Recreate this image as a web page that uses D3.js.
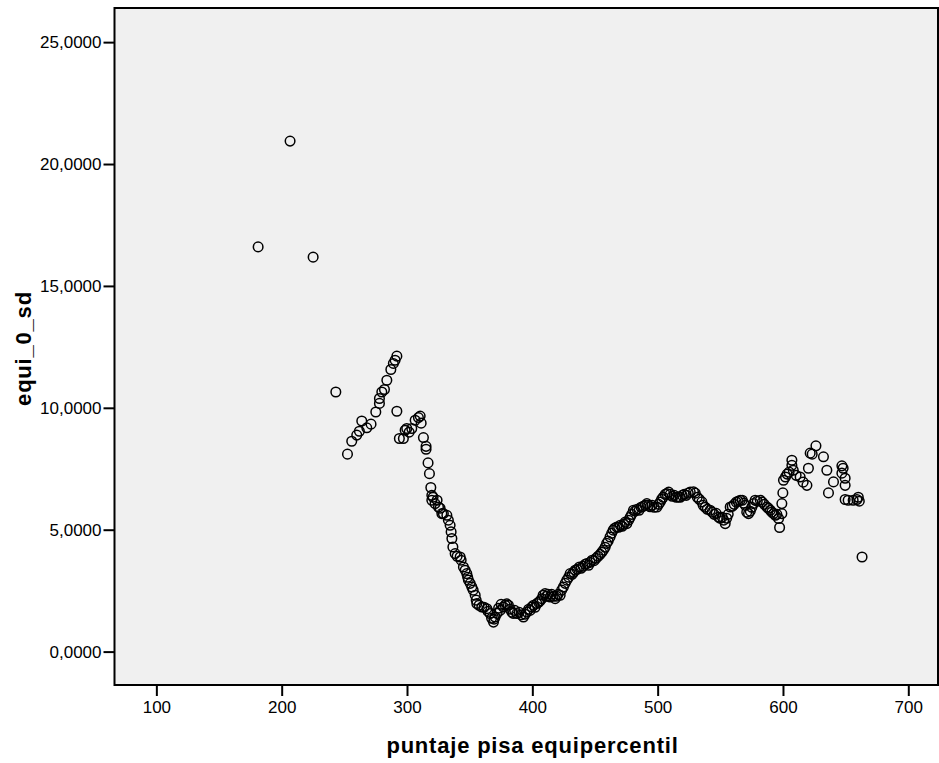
<!DOCTYPE html>
<html>
<head>
<meta charset="utf-8">
<script src="https://cdn.jsdelivr.net/npm/d3@7"></script>
<style>
  html, body { margin: 0; padding: 0; background: #ffffff; }
  svg { display: block; }
  text { font-family: Arial, "Liberation Sans", sans-serif; fill: #000; }
</style>
</head>
<body>
<svg id="chart" width="939" height="763"></svg>
<script>
// puntaje pisa equipercentil (x) vs equi_0_sd (y)
const puntaje = [
  181.2, 206.7, 225.1, 243.2,
  252.5, 255.9, 259.9, 262.0, 263.9, 267.9, 271.3, 275.1, 278.0, 278.0, 279.9, 282.0,
  283.9, 287.1, 289.1, 290.5, 291.9, 291.9, 293.9, 297.1, 298.5, 299.8, 301.7, 303.8,
  306.5, 309.1, 310.5, 311.3, 313.1, 315.2, 315.2, 316.8, 317.9, 319.0, 319.8, 319.8,
  320.8, 322.4, 324.0, 325.1, 326.4, 327.8, 329.0, 331.8, 333.0, 334.4, 335.2, 335.8,
  336.6, 338.4, 340.0, 342.4, 343.2, 345.0, 346.4, 347.7, 348.4, 349.0, 350.4, 351.7,
  352.8, 354.4, 355.2, 355.7, 357.5, 359.7, 361.5, 363.7, 364.7, 366.3, 367.5, 369.0,
  369.5, 370.3, 371.9, 373.1, 374.3, 375.1, 376.9, 378.3, 379.5, 380.9, 382.3, 383.6,
  384.7, 385.9, 387.6, 389.5, 391.1, 392.9, 394.3, 395.6, 397.1, 398.2, 399.6, 401.0,
  402.2, 403.6, 405.0, 406.2, 407.6, 408.6, 410.2, 411.4, 412.6, 414.2, 415.4, 416.6,
  418.2, 419.4, 420.6, 422.2, 423.4, 424.8, 426.2, 427.5, 429.0, 430.2, 431.8, 433.0,
  434.2, 435.8, 437.6, 438.9, 440.5, 442.1, 443.5, 444.9, 446.1, 447.7, 449.3, 450.9,
  452.5, 454.1, 455.3, 456.7, 458.1, 459.3, 460.5, 462.0, 463.3, 464.5, 465.7, 467.4,
  468.9, 470.1, 471.7, 472.9, 474.1, 475.4, 476.9, 478.1, 479.3, 480.7, 482.0, 483.6,
  485.2, 486.8, 488.4, 490.0, 491.4, 492.8, 494.0, 495.6, 497.2, 499.4, 500.8, 502.0,
  503.2, 504.4, 506.0, 507.3, 508.8, 510.0, 511.6, 513.2, 514.8, 516.4, 518.0, 519.6,
  521.2, 522.8, 524.4, 526.0, 528.6, 530.0, 531.6, 533.2, 535.3, 536.3, 538.0, 539.6,
  541.9, 543.5, 545.1, 546.7, 548.5, 549.9, 551.5, 552.7, 553.9, 555.1, 556.3, 557.9,
  559.5, 561.1, 562.7, 564.3, 565.9, 567.5, 568.7, 569.9, 571.1, 572.5, 573.9, 575.1,
  576.5, 577.8, 579.5, 581.9, 583.5, 585.1, 587.2, 588.3, 589.9, 591.1, 592.5, 593.9,
  595.1, 596.5, 597.3, 599.1, 599.1, 599.9, 600.4, 602.0, 603.3, 604.9, 607.1, 607.1,
  608.2, 610.5, 613.7, 616.1, 619.1, 620.3, 621.7, 623.3, 626.3, 632.3, 635.0, 636.3,
  640.3, 647.0, 647.0, 648.0, 649.6, 649.6, 649.6, 652.0, 656.0, 659.0, 660.1, 660.9,
  663.1
];
const equiSd = [
  16.60, 20.94, 16.18, 10.65,
  8.10, 8.63, 8.88, 9.04, 9.46, 9.18, 9.33, 9.83, 10.18, 10.38, 10.65, 10.75,
  11.13, 11.57, 11.82, 11.95, 12.12, 9.86, 8.74, 8.74, 9.08, 9.15, 9.00, 9.15,
  9.49, 9.60, 9.66, 9.37, 8.78, 8.42, 8.30, 7.74, 7.30, 6.73, 6.41, 6.21,
  6.33, 6.07, 6.21, 5.93, 5.88, 5.66, 5.66, 5.59, 5.39, 5.18, 4.91, 4.64,
  4.29, 4.02, 3.91, 3.88, 3.75, 3.47, 3.34, 3.20, 3.05, 2.93, 2.80, 2.65,
  2.52, 2.31, 2.11, 1.97, 1.90, 1.83, 1.82, 1.76, 1.65, 1.56, 1.37, 1.21,
  1.33, 1.42, 1.57, 1.78, 1.69, 1.94, 1.83, 1.90, 1.96, 1.90, 1.74, 1.62,
  1.57, 1.69, 1.56, 1.61, 1.51, 1.42, 1.53, 1.62, 1.74, 1.69, 1.83, 1.90,
  1.82, 1.97, 2.02, 2.08, 2.17, 2.31, 2.38, 2.27, 2.35, 2.24, 2.35, 2.27,
  2.17, 2.27, 2.35, 2.31, 2.52, 2.65, 2.80, 2.93, 3.05, 3.20, 3.17, 3.25,
  3.34, 3.38, 3.47, 3.42, 3.50, 3.58, 3.61, 3.54, 3.66, 3.75, 3.73, 3.83,
  3.91, 3.99, 4.07, 4.16, 4.28, 4.44, 4.53, 4.70, 4.85, 4.98, 5.06, 5.11,
  5.10, 5.18, 5.14, 5.22, 5.31, 5.25, 5.39, 5.51, 5.63, 5.80, 5.76, 5.84,
  5.80, 5.92, 5.96, 6.00, 6.07, 6.00, 5.94, 6.00, 5.92, 5.93, 6.04, 6.13,
  6.25, 6.33, 6.45, 6.48, 6.54, 6.45, 6.37, 6.41, 6.33, 6.34, 6.33, 6.41,
  6.45, 6.41, 6.50, 6.54, 6.55, 6.50, 6.33, 6.25, 6.14, 6.00, 5.92, 5.84,
  5.80, 5.72, 5.63, 5.67, 5.52, 5.47, 5.51, 5.39, 5.25, 5.47, 5.63, 5.93,
  5.96, 6.04, 6.13, 6.17, 6.21, 6.21, 6.09, 6.00, 5.72, 5.66, 5.76, 5.92,
  6.07, 6.21, 6.17, 6.21, 6.13, 6.04, 5.93, 5.88, 5.80, 5.72, 5.66, 5.59,
  5.63, 5.46, 5.09, 5.66, 6.07, 6.51, 7.03, 7.16, 7.28, 7.36, 7.64, 7.85,
  7.44, 7.23, 7.16, 6.95, 6.82, 7.52, 8.14, 8.10, 8.44, 7.99, 7.44, 6.51,
  6.96, 7.62, 7.32, 7.52, 6.82, 7.11, 6.24, 6.21, 6.21, 6.24, 6.33, 6.17,
  3.88
];
const xTicks = [100, 200, 300, 400, 500, 600, 700];
const yTicks = [0, 5, 10, 15, 20, 25];
const xTitle = "puntaje pisa equipercentil";
const yTitle = "equi_0_sd";

const plot = { left: 114.5, right: 938, top: 8, bottom: 685 };

const x = d3.scaleLinear().domain([66.6, 723.7]).range([plot.left, plot.right]);
const y = d3.scaleLinear().domain([-1.37, 26.40]).range([plot.bottom, plot.top]);

// Spanish-style decimals: comma separator, four places
const esLocale = d3.formatLocale({ decimal: ",", thousands: ".", grouping: [3], currency: ["", " €"] });
const fmtY = esLocale.format(".4f");

const svg = d3.select("#chart");

// plot background
svg.append("rect")
  .attr("x", plot.left).attr("y", plot.top)
  .attr("width", plot.right - plot.left).attr("height", plot.bottom - plot.top)
  .attr("fill", "#f0f0f0");

// scatter points: hollow circles
svg.append("g")
  .selectAll("circle")
  .data(puntaje.map((v, i) => [v, equiSd[i]]))
  .join("circle")
  .attr("cx", d => x(d[0]))
  .attr("cy", d => y(d[1]))
  .attr("r", 4.8)
  .attr("fill", "none")
  .attr("stroke", "#000")
  .attr("stroke-width", 1.5);

// frame
svg.append("rect")
  .attr("x", plot.left).attr("y", plot.top)
  .attr("width", plot.right - plot.left).attr("height", plot.bottom - plot.top)
  .attr("fill", "none")
  .attr("stroke", "#000")
  .attr("stroke-width", 2);

// axes
const xAxis = d3.axisBottom(x).tickValues(xTicks).tickFormat(d3.format("d")).tickSize(11).tickPadding(5).tickSizeOuter(0);
const yAxis = d3.axisLeft(y).tickValues(yTicks).tickFormat(fmtY).tickSize(11).tickPadding(2).tickSizeOuter(0);

const gx = svg.append("g").attr("transform", `translate(0,${plot.bottom})`).call(xAxis);
const gy = svg.append("g").attr("transform", `translate(${plot.left},0)`).call(yAxis);

[gx, gy].forEach(g => {
  g.select(".domain").remove();
  g.selectAll(".tick line").attr("stroke", "#000").attr("stroke-width", 2);
  g.selectAll(".tick text")
    .attr("fill", "#000")
    .style("font-family", "Arial, 'Liberation Sans', sans-serif")
    .style("font-size", "17px");
});

// axis titles
svg.append("text")
  .attr("x", 532.5).attr("y", 753)
  .attr("text-anchor", "middle")
  .style("font-size", "22px").style("font-weight", "bold").style("letter-spacing", "0.8px")
  .text(xTitle);

svg.append("text")
  .attr("transform", `translate(31,348.5) rotate(-90)`)
  .attr("text-anchor", "middle")
  .style("font-size", "22px").style("font-weight", "bold").style("letter-spacing", "0.8px")
  .text(yTitle);
</script>
</body>
</html>
